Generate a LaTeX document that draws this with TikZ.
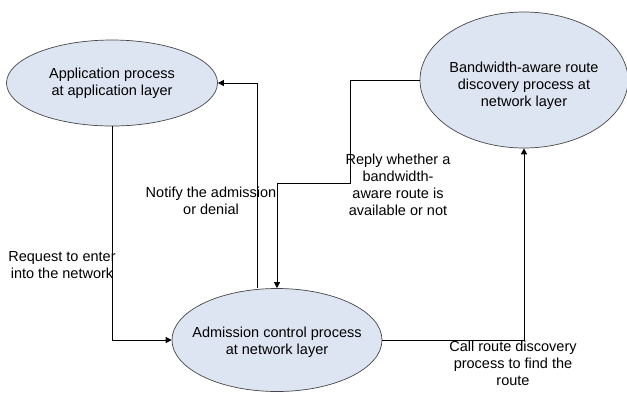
\documentclass[tikz,border=0pt]{standalone}
\usepackage{fontspec}
\setmainfont{Liberation Sans}
\usetikzlibrary{shapes.geometric,arrows.meta}
\definecolor{procfill}{RGB}{222,229,242}
\definecolor{procline}{RGB}{70,70,70}
\tikzset{
  proc/.style={ellipse, draw=procline, fill=procfill, line width=0.7pt, inner sep=0pt},
  txt/.style={align=center, inner sep=0pt, font=\fontsize{14.5}{17}\selectfont},
  flow/.style={draw=black, line width=1pt, -{Triangle[length=6pt,width=6pt]}},
}
\begin{document}
\begin{tikzpicture}[x=1pt,y=-1pt]
\useasboundingbox (0,0) rectangle (627,392);
% process ellipses
\node[proc, minimum width=211pt, minimum height=86pt] (app) at (112,83) {};
\node[proc, minimum width=208pt, minimum height=136pt] (bw) at (524,80) {};
\node[proc, minimum width=210pt, minimum height=103pt] (adm) at (277,340) {};
\node[txt] (apptxt) at (112,83) {Application process\\at application layer};
\node[txt] (bwtxt) at (524,86) {Bandwidth-aware route\\discovery process at\\network layer};
\node[txt] (admtxt) at (277,342) {Admission control process\\at network layer};
% connectors
\coordinate (r1) at (350.5,183.5);
\coordinate (n1) at (257.5,0);
\draw[flow] (app.south) |- (adm.west);
\draw[flow] (adm.north -| n1) |- (app.east);
\draw[flow] (bw.west) -| (r1) -| (adm.north);
\draw[flow] (adm.east) -| (bw.south);
% connector labels
\node[txt] (lreq) at (62,265) {Request to enter\\into the network};
\node[txt] (lnot) at (211,201) {Notify the admission\\or denial};
\node[txt] (lrep) at (398,185) {Reply whether a\\bandwidth-\\aware route is\\available or not};
\node[txt] (lcall) at (513,363) {Call route discovery\\process to find the\\route};
\end{tikzpicture}
\end{document}
